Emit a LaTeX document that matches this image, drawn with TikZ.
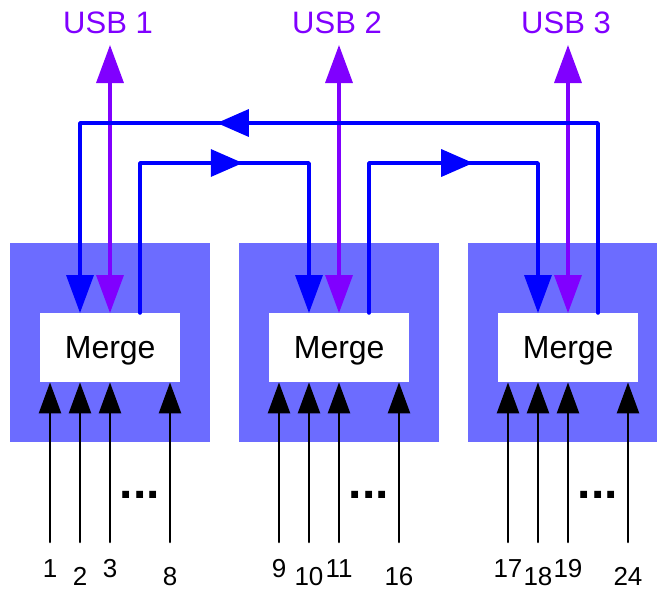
\documentclass[tikz,border=0pt]{standalone}
\usepackage{fontspec}
\setmainfont{Liberation Sans}
\usetikzlibrary{arrows.meta,decorations.markings}
\definecolor{boxblue}{RGB}{108,108,255}
\definecolor{busblue}{RGB}{0,0,255}
\definecolor{usbpurple}{RGB}{128,0,255}
\tikzset{
	grpbox/.style={fill=boxblue,minimum width=200pt,minimum height=199pt,inner sep=0pt,anchor=north west},
	mrgbox/.style={fill=white,minimum width=140pt,minimum height=69pt,inner sep=0pt,anchor=north west,text depth=0pt,font=\fontsize{32}{32}\selectfont},
	inarrow/.style={line width=2.5pt,-{Triangle[width=22pt,length=31pt]}},
	busline/.style={busblue,line width=3.5pt,-{Triangle[width=27pt,length=38pt]}},
	usbline/.style={usbpurple,line width=3.5pt,{Triangle[width=27pt,length=38pt]}-{Triangle[width=27pt,length=38pt]}},
	midarrow/.style={postaction={decorate},decoration={markings,mark=at position #1 with {\arrow{Triangle[width=27pt,length=32pt]}}}},
	numlabel/.style={anchor=base,inner sep=0pt,font=\fontsize{26}{26}\selectfont},
	usblabel/.style={anchor=base,inner sep=0pt,text=usbpurple,font=\fontsize{31}{31}\selectfont},
	dotslabel/.style={anchor=base,inner sep=0pt,font=\fontsize{48}{48}\selectfont\bfseries}
}
\begin{document}
	\begin{tikzpicture}[line cap=round,line join=round,x=1pt,y=-1pt]
		\useasboundingbox (0,0) rectangle (657,590);
		\clip (0,0) rectangle (657,590);
		% three merge groups
		\foreach \i in {1,2,3}{
			\pgfmathsetmacro\bx{10+229*(\i-1)}
			\pgfmathsetmacro\wx{\bx+30}
			\node[grpbox] (grp\i) at (\bx,243) {};
			\node[mrgbox] (mrg\i) at (\wx,313) {Merge};
			\coordinate (in\i) at (\wx+40,313);
			\coordinate (out\i) at (\wx+100,313);
			\coordinate (usbtip\i) at (\wx+70,45);
			\node[usblabel] (usb\i) at (\wx+68,33) {USB \i};
			\draw[usbline] (usbtip\i) -- (usbtip\i |- mrg\i.north);
			\node[dotslabel] (dots\i) at (\wx+100,498) {...};
			% inputs
			\foreach \k/\dx/\ly in {1/10/577,2/40/585,3/70/577,8/130/585}{
				\pgfmathtruncatemacro\n{8*(\i-1)+\k}
				\coordinate (src\n) at (\wx+\dx,542);
				\draw[inarrow] (src\n) -- (src\n |- mrg\i.south);
				\node[numlabel] (lbl\n) at (\wx+\dx,\ly) {\n};
			}
		}
		% connections between the groups
		\draw[busline,midarrow=0.636] (out3) -- ++(0,-190) -| (in1);
		\draw[busline,midarrow=0.539] (out1) -- ++(0,-150) -| (in2);
		\draw[busline,midarrow=0.542] (out2) -- ++(0,-150) -| (in3);
	\end{tikzpicture}
\end{document}
